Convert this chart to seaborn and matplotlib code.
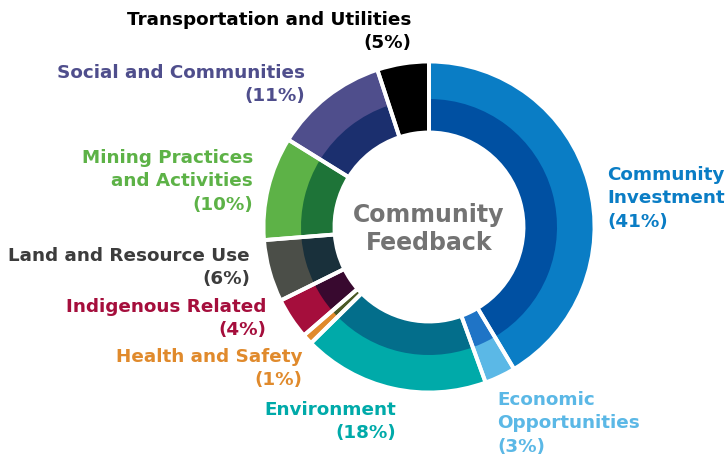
import matplotlib
matplotlib.use("Agg")
import matplotlib.pyplot as plt
import seaborn as sns

categories = ["Community Investment", "Economic Opportunities", "Environment",
              "Health and Safety", "Indigenous Related", "Land and Resource Use",
              "Mining Practices and Activities", "Social and Communities",
              "Transportation and Utilities"]
values = [41, 3, 18, 1, 4, 6, 10, 11, 5]
outer_colors = ["#0a7dc5", "#5bb8e6", "#00aaa9", "#e08a2c", "#a50e3c",
                "#4b4e48", "#5db247", "#4f4e8c", "#000000"]
inner_colors = ["#0050a2", "#1f74c6", "#036e8b", "#4b5a26", "#38092f",
                "#19303b", "#1e7438", "#1b2f6e", "#000000"]
label_lines = [["Community", "Investment", "(41%)"],
               ["Economic", "Opportunities", "(3%)"],
               ["Environment", "(18%)"],
               ["Health and Safety", "(1%)"],
               ["Indigenous Related", "(4%)"],
               ["Land and Resource Use", "(6%)"],
               ["Mining Practices", "and Activities", "(10%)"],
               ["Social and Communities", "(11%)"],
               ["Transportation and Utilities", "(5%)"]]
label_colors = ["#0a7dc5", "#5bb8e6", "#00aaa9", "#e08a2c", "#a50e3c",
                "#3c3c3c", "#5db247", "#4f4e8c", "#000000"]

sns.set_theme(style="white")
plt.rcParams['font.family'] = ['DejaVu Sans']

W, H = 727, 455
fig = plt.figure(figsize=(W / 100, H / 100), dpi=100)
ax = fig.add_axes([0, 0, 1, 1])

cx, cy = 429, H - 227
R_out, R_mid, R_in = 165.5, 128, 94.5

ax.pie(values, colors=outer_colors, startangle=90, counterclock=False,
       radius=R_out, center=(cx, cy), frame=True,
       wedgeprops=dict(width=R_out - R_in, linewidth=0))
ax.pie(values, colors=inner_colors, startangle=90, counterclock=False,
       radius=R_mid, center=(cx, cy), frame=True,
       wedgeprops=dict(width=R_mid - R_in, linewidth=0))
ax.pie(values, colors=["none"] * len(values), startangle=90,
       counterclock=False, radius=R_out, center=(cx, cy), frame=True,
       wedgeprops=dict(width=R_out - R_in, linewidth=2.8,
                       edgecolor="white", fill=False))
ax.set_xlim(0, W)
ax.set_ylim(0, H)
ax.set_aspect("equal")
ax.axis("off")

# label anchor positions (pixel coords: x, first-line y, alignment)
anchors = [(607, 175, "left"), (497, 400, "left"), (396, 410, "right"),
           (302, 357, "right"), (266, 307, "right"), (250, 256, "right"),
           (253, 158, "right"), (305, 73, "right"), (411, 20, "right")]
line_h = 23.3
fs = 13.2
for lines, col, (x, y0, ha) in zip(label_lines, label_colors, anchors):
    for i, ln in enumerate(lines):
        ax.text(x, H - (y0 + i * line_h), ln, ha=ha, va="center",
                color=col, fontsize=fs, fontweight="bold")

ax.text(cx, H - 215, "Community", ha="center", va="center", color="#737373",
        fontsize=17, fontweight="bold")
ax.text(cx, H - 243, "Feedback", ha="center", va="center", color="#737373",
        fontsize=17, fontweight="bold")

fig.savefig("out.png", dpi=100)
